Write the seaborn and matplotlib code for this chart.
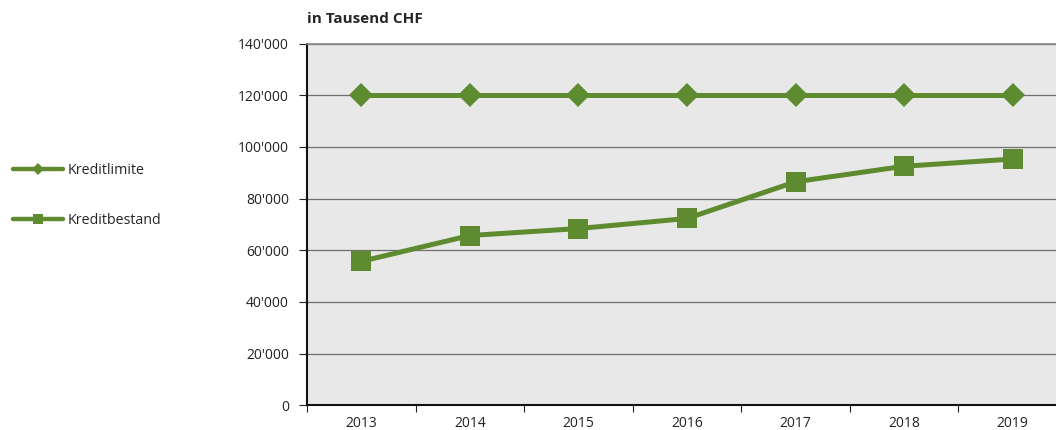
import pandas as pd
import seaborn as sns
import matplotlib.pyplot as plt
from matplotlib.lines import Line2D
from matplotlib.ticker import FuncFormatter

# data (in thousand CHF)
years = [2013, 2014, 2015, 2016, 2017, 2018, 2019]
kreditlimite = [120000, 120000, 120000, 120000, 120000, 120000, 120000]
kreditbestand = [55700, 65700, 68400, 72300, 86500, 92500, 95300]
labels = ['Kreditlimite', 'Kreditbestand']

green = '#5E8B2F'

df = pd.DataFrame({'Jahr': years, 'Kreditlimite': kreditlimite, 'Kreditbestand': kreditbestand})

sns.set_style("white")
plt.rcParams['font.family'] = ['Open Sans', 'DejaVu Sans']
plt.rcParams['font.size'] = 10

fig = plt.figure(figsize=(10.56, 4.30), dpi=100)
# plot area is cut at the right edge in the reference
ax = fig.add_axes([0.2907, 0.0574, 0.7197, 0.8414])
ax.set_facecolor('#E8E8E8')

sns.lineplot(x='Jahr', y='Kreditlimite', data=df, ax=ax, color=green, linewidth=3.6,
             marker='D', markersize=12, markeredgewidth=0, label=labels[0], legend=False)
sns.lineplot(x='Jahr', y='Kreditbestand', data=df, ax=ax, color=green, linewidth=3.6,
             marker='s', markersize=14, markeredgewidth=0, label=labels[1], legend=False)

# axes
ax.set_ylim(0, 140000)
ax.set_yticks(range(0, 140001, 20000))
ax.yaxis.set_major_formatter(FuncFormatter(lambda v, p: f"{int(v):,}".replace(',', "'")))
ax.set_xlim(years[0] - 0.5, years[-1] + 0.5)
ax.set_xticks([y - 0.5 for y in years] + [years[-1] + 0.5])
ax.set_xticklabels([])
ax.set_xticks(years, minor=True)
ax.set_xticklabels([str(y) for y in years], minor=True)
ax.tick_params(axis='x', which='minor', length=0, pad=8, labelsize=10, colors='#222222')
ax.tick_params(axis='x', which='major', length=5, direction='out', color='#222222', bottom=True)
ax.tick_params(axis='y', length=6, direction='out', color='#222222', left=True, pad=7,
               labelsize=10, colors='#222222')
ax.grid(axis='y', color='#707070', linewidth=0.9)
ax.set_axisbelow(True)
ax.set_xlabel('')
ax.set_ylabel('')

ax.spines['left'].set_color('#111111')
ax.spines['left'].set_linewidth(1.5)
ax.spines['bottom'].set_color('#111111')
ax.spines['bottom'].set_linewidth(1.5)
ax.spines['top'].set_color('#888888')
ax.spines['top'].set_linewidth(1.2)
ax.spines['right'].set_visible(False)

# unit label above the plot
fig.text(0.2907, 0.94, 'in Tausend CHF', fontsize=11, fontweight='bold', ha='left', va='bottom')

# legend on the left
handles = [Line2D([0], [0], color=green, linewidth=3.2, marker='D', markersize=6, markeredgewidth=0),
           Line2D([0], [0], color=green, linewidth=3.2, marker='s', markersize=7, markeredgewidth=0)]
fig.legend(handles, labels, loc='upper left', bbox_to_anchor=(0.0, 0.652), frameon=False,
           handlelength=3.5, handletextpad=0.3, labelspacing=2.45, fontsize=10.3)

plt.savefig('out.png', dpi=100)
